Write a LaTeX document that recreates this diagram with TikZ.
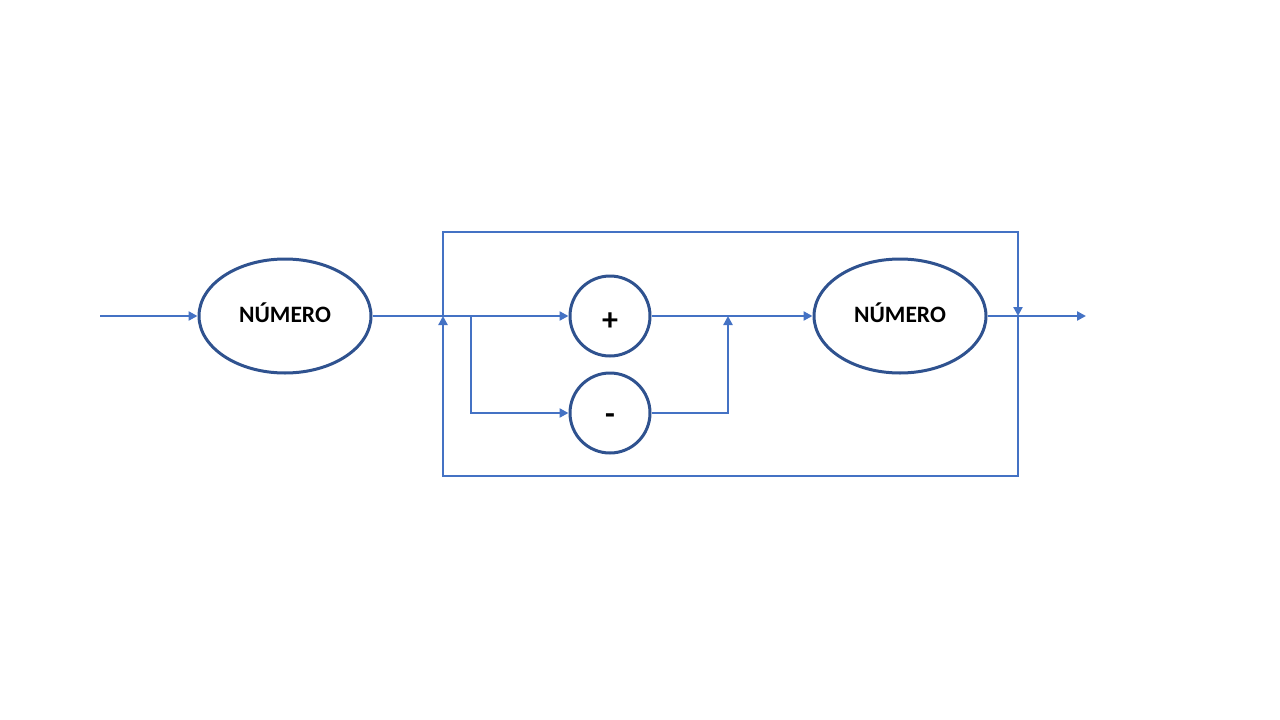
\documentclass[tikz,border=0pt]{standalone}
\usepackage{fontspec}
\setmainfont{Carlito}
\usetikzlibrary{arrows.meta,shapes.geometric}
\definecolor{SynBlue}{RGB}{68,114,196}
\definecolor{SynDark}{RGB}{47,82,143}

\begin{document}
\begin{tikzpicture}[x=1pt,y=-1pt]
	\tikzset{
		synnode/.style={
			shape=ellipse,
			draw=SynDark,
			line width=3pt,
			fill=white,
			minimum width=172pt,
			minimum height=114pt,
			inner sep=0pt,
			font=\fontsize{23.5}{26}\selectfont\bfseries,
			text=black
		},
		synop/.style={
			shape=circle,
			draw=SynDark,
			line width=3pt,
			fill=white,
			minimum size=80pt,
			inner sep=0pt,
			font=\fontsize{32}{34}\selectfont\bfseries,
			text=black
		},
		synedge/.style={draw=SynBlue, line width=2.8pt},
		synarrow/.style={synedge, -{Triangle[length=9pt,width=9pt]}}
	}
	\useasboundingbox (0,0) rectangle (1280,720);
	
	\coordinate (in) at (100,316);
	\node[synnode] (num1) at (285,316) {\raisebox{3.5pt}[\height][\depth]{NÚMERO}};
	\node[synop] (plus) at (610,316) {\raisebox{-6pt}[\height][0pt]{+}};
	\node[synop] (minus) at (610,413) {\raisebox{-6pt}[\height][0pt]{-}};
	\node[synnode] (num2) at (900,316) {\raisebox{3.5pt}[\height][\depth]{NÚMERO}};
	\coordinate (out) at (1086,316);
	
	\coordinate (loopin) at (443,316);
	\coordinate (split) at (471,316);
	\coordinate (join) at (728,316);
	\coordinate (loopout) at (1018,316);
	\coordinate (skipL) at (443,232);
	\coordinate (skipR) at (1018,232);
	\coordinate (backR) at (1018,476);
	\coordinate (backL) at (443,476);
	
	\draw[synarrow] (in) -- (num1);
	\draw[synarrow] (num1) -- (plus);
	\draw[synarrow] (split) |- (minus);
	\draw[synarrow] (minus) -| (join);
	\draw[synarrow] (plus) -- (num2);
	\draw[synarrow] (num2) -- (out);
	% skip path and repeat path
	\draw[synarrow] (loopin) -- (skipL) -- (skipR) -- (loopout);
	\draw[synarrow] (loopout) -- (backR) -- (backL) -- (loopin);
\end{tikzpicture}
\end{document}
